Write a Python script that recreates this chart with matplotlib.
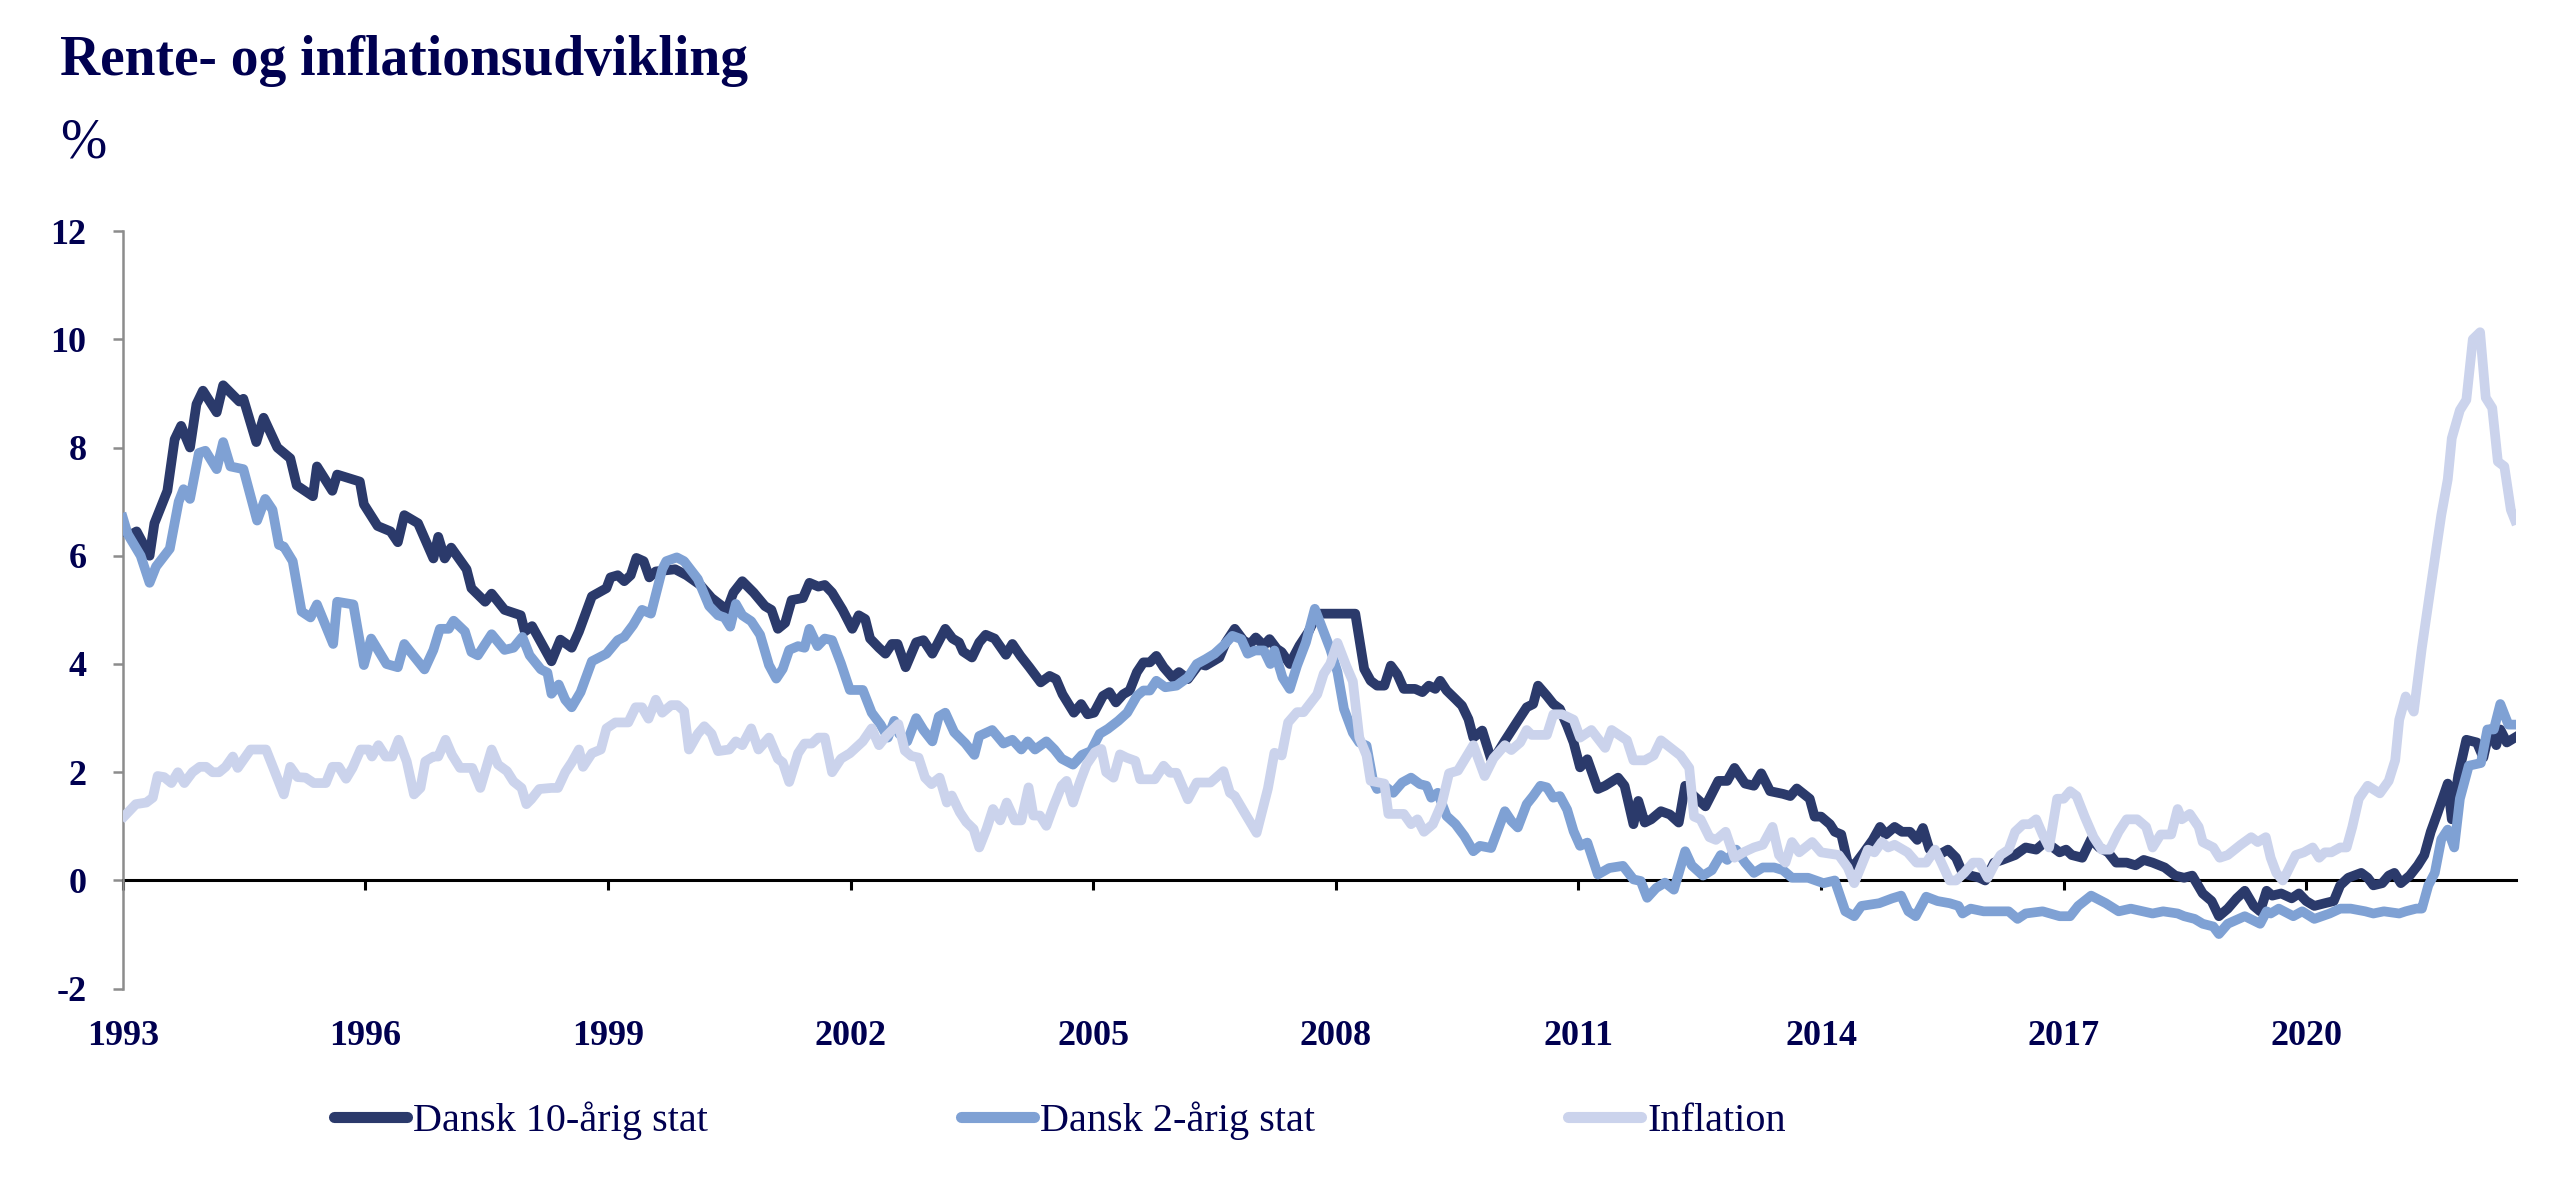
import matplotlib
matplotlib.use("Agg")
import matplotlib.pyplot as plt

# Rente- og inflationsudvikling, 1993-2022

navy_text = "#000050"
c10 = "#2b3a6b"
c2 = "#7fa1d4"
cinf = "#cbd3ec"

labels = ["Dansk 10-årig stat", "Dansk 2-årig stat", "Inflation"]
year_ticks = [1993, 1996, 1999, 2002, 2005, 2008, 2011, 2014, 2017, 2020]
y_ticks = [-2, 0, 2, 4, 6, 8, 10, 12]

# Dansk 10-årig stat
t10 = [1993.00, 1993.11, 1993.17, 1993.33, 1993.39, 1993.55, 1993.64, 1993.72, 1993.83, 1993.91,
       1993.99, 1994.16, 1994.24, 1994.44, 1994.49, 1994.65, 1994.74, 1994.91, 1995.07, 1995.15,
       1995.35, 1995.40, 1995.59, 1995.65, 1995.93, 1995.98, 1996.15, 1996.31, 1996.40, 1996.48,
       1996.65, 1996.84, 1996.90, 1996.98, 1997.06, 1997.25, 1997.31, 1997.48, 1997.56, 1997.72,
       1997.92, 1997.97, 1998.06, 1998.30, 1998.41, 1998.55, 1998.64, 1998.80, 1998.98, 1999.03,
       1999.12, 1999.20, 1999.28, 1999.35, 1999.44, 1999.51, 1999.59, 1999.83, 1999.97, 2000.14,
       2000.28, 2000.47, 2000.55, 2000.66, 2000.80, 2000.94, 2001.02, 2001.10, 2001.19, 2001.27,
       2001.41, 2001.49, 2001.60, 2001.68, 2001.77, 2001.90, 2002.02, 2002.10, 2002.18, 2002.24,
       2002.35, 2002.43, 2002.51, 2002.58, 2002.68, 2002.81, 2002.90, 2003.01, 2003.17, 2003.26,
       2003.34, 2003.39, 2003.50, 2003.59, 2003.67, 2003.78, 2003.92, 2004.00, 2004.10, 2004.21,
       2004.35, 2004.46, 2004.54, 2004.62, 2004.76, 2004.85, 2004.93, 2005.01, 2005.12, 2005.20,
       2005.28, 2005.37, 2005.45, 2005.54, 2005.62, 2005.70, 2005.78, 2005.87, 2005.98, 2006.06,
       2006.17, 2006.31, 2006.39, 2006.56, 2006.64, 2006.75, 2006.86, 2006.94, 2007.01, 2007.11,
       2007.18, 2007.27, 2007.33, 2007.43, 2007.55, 2007.66, 2007.77, 2008.24, 2008.35, 2008.43,
       2008.51, 2008.60, 2008.68, 2008.76, 2008.84, 2008.98, 2009.07, 2009.15, 2009.23, 2009.29,
       2009.37, 2009.48, 2009.56, 2009.64, 2009.70, 2009.81, 2009.92, 2010.00, 2010.09, 2010.25,
       2010.36, 2010.44, 2010.50, 2010.61, 2010.69, 2010.77, 2010.86, 2010.94, 2011.02, 2011.11,
       2011.24, 2011.33, 2011.49, 2011.57, 2011.68, 2011.74, 2011.82, 2011.90, 2012.02, 2012.13,
       2012.24, 2012.32, 2012.40, 2012.57, 2012.73, 2012.84, 2012.93, 2013.06, 2013.17, 2013.26,
       2013.37, 2013.53, 2013.62, 2013.70, 2013.86, 2013.92, 2014.00, 2014.11, 2014.17, 2014.25,
       2014.33, 2014.41, 2014.53, 2014.64, 2014.73, 2014.80, 2014.91, 2015.00, 2015.10, 2015.19,
       2015.26, 2015.34, 2015.45, 2015.57, 2015.67, 2015.75, 2015.85, 2015.96, 2016.03, 2016.14,
       2016.24, 2016.40, 2016.53, 2016.66, 2016.77, 2016.87, 2016.95, 2017.03, 2017.10, 2017.23,
       2017.34, 2017.44, 2017.55, 2017.65, 2017.78, 2017.89, 2017.99, 2018.10, 2018.25, 2018.38,
       2018.49, 2018.59, 2018.72, 2018.83, 2018.92, 2019.03, 2019.14, 2019.24, 2019.35, 2019.43,
       2019.51, 2019.58, 2019.69, 2019.82, 2019.91, 2020.00, 2020.10, 2020.23, 2020.34, 2020.42,
       2020.52, 2020.68, 2020.76, 2020.83, 2020.94, 2021.02, 2021.09, 2021.17, 2021.28, 2021.38,
       2021.46, 2021.54, 2021.62, 2021.75, 2021.80, 2021.88, 2021.98, 2022.11, 2022.19, 2022.27,
       2022.35, 2022.40, 2022.48, 2022.58]
v10 = [6.45, 6.40, 6.45, 6.00, 6.60, 7.20, 8.15, 8.40, 8.00, 8.80,
       9.05, 8.65, 9.15, 8.85, 8.90, 8.10, 8.55, 8.00, 7.80, 7.30,
       7.10, 7.65, 7.20, 7.50, 7.37, 6.95, 6.55, 6.45, 6.25, 6.75,
       6.60, 5.95, 6.35, 5.95, 6.15, 5.75, 5.40, 5.15, 5.30, 5.00,
       4.90, 4.60, 4.70, 4.05, 4.45, 4.30, 4.60, 5.25, 5.40, 5.60,
       5.64, 5.53, 5.64, 5.96, 5.90, 5.60, 5.71, 5.75, 5.64, 5.46,
       5.22, 5.00, 5.32, 5.53, 5.32, 5.07, 5.00, 4.65, 4.76, 5.18,
       5.22, 5.50, 5.43, 5.46, 5.32, 5.00, 4.65, 4.90, 4.83, 4.47,
       4.30, 4.19, 4.37, 4.37, 3.94, 4.40, 4.44, 4.19, 4.65, 4.47,
       4.40, 4.23, 4.12, 4.40, 4.54, 4.47, 4.17, 4.37, 4.15, 3.94,
       3.66, 3.78, 3.72, 3.44, 3.10, 3.26, 3.07, 3.10, 3.41, 3.48,
       3.29, 3.44, 3.51, 3.85, 4.03, 4.03, 4.15, 3.94, 3.75, 3.85,
       3.72, 4.00, 3.97, 4.12, 4.40, 4.65, 4.43, 4.37, 4.49, 4.34,
       4.46, 4.28, 4.22, 4.00, 4.34, 4.59, 4.93, 4.93, 3.91, 3.69,
       3.60, 3.60, 3.97, 3.81, 3.54, 3.54, 3.48, 3.60, 3.54, 3.69,
       3.51, 3.35, 3.23, 2.98, 2.64, 2.77, 2.24, 2.36, 2.58, 2.95,
       3.20, 3.26, 3.60, 3.41, 3.26, 3.17, 2.86, 2.55, 2.09, 2.24,
       1.69, 1.75, 1.90, 1.75, 1.04, 1.47, 1.07, 1.13, 1.28, 1.22,
       1.07, 1.75, 1.60, 1.37, 1.84, 1.84, 2.08, 1.79, 1.75, 1.98,
       1.65, 1.60, 1.56, 1.70, 1.51, 1.18, 1.18, 1.04, 0.90, 0.85,
       0.33, 0.28, 0.52, 0.75, 0.99, 0.85, 0.99, 0.90, 0.90, 0.75,
       0.97, 0.58, 0.47, 0.57, 0.42, 0.14, 0.09, 0.05, 0.00, 0.33,
       0.38, 0.47, 0.61, 0.57, 0.71, 0.61, 0.52, 0.57, 0.47, 0.42,
       0.76, 0.61, 0.52, 0.33, 0.33, 0.28, 0.38, 0.33, 0.24, 0.09,
       0.05, 0.09, -0.24, -0.38, -0.66, -0.52, -0.33, -0.19, -0.47, -0.57,
       -0.19, -0.28, -0.24, -0.33, -0.24, -0.38, -0.47, -0.42, -0.38, -0.09,
       0.05, 0.14, 0.05, -0.09, -0.05, 0.09, 0.14, -0.05, 0.09, 0.28,
       0.47, 0.90, 1.23, 1.79, 1.13, 1.94, 2.60, 2.55, 2.27, 2.79,
       2.50, 2.79, 2.55, 2.64]

# Dansk 2-årig stat
t2 = [1993.00, 1993.06, 1993.22, 1993.33, 1993.41, 1993.58, 1993.69, 1993.75, 1993.83, 1993.94,
      1994.02, 1994.16, 1994.24, 1994.33, 1994.49, 1994.66, 1994.76, 1994.85, 1994.93, 1994.99,
      1995.10, 1995.21, 1995.32, 1995.40, 1995.60, 1995.65, 1995.85, 1995.98, 1996.07, 1996.26,
      1996.40, 1996.48, 1996.59, 1996.73, 1996.84, 1996.92, 1997.03, 1997.09, 1997.23, 1997.31,
      1997.39, 1997.56, 1997.72, 1997.83, 1997.94, 1998.03, 1998.17, 1998.25, 1998.30, 1998.39,
      1998.47, 1998.55, 1998.66, 1998.80, 1998.98, 1999.12, 1999.20, 1999.31, 1999.42, 1999.53,
      1999.67, 1999.72, 1999.85, 1999.94, 2000.11, 2000.25, 2000.36, 2000.44, 2000.51, 2000.58,
      2000.66, 2000.77, 2000.88, 2000.99, 2001.08, 2001.16, 2001.24, 2001.35, 2001.43, 2001.49,
      2001.59, 2001.68, 2001.77, 2001.88, 2001.99, 2002.15, 2002.26, 2002.37, 2002.46, 2002.54,
      2002.60, 2002.70, 2002.81, 2002.90, 2003.01, 2003.09, 2003.17, 2003.28, 2003.42, 2003.53,
      2003.59, 2003.75, 2003.89, 2004.00, 2004.11, 2004.19, 2004.28, 2004.42, 2004.52, 2004.61,
      2004.75, 2004.86, 2004.97, 2005.08, 2005.18, 2005.31, 2005.42, 2005.54, 2005.62, 2005.70,
      2005.78, 2005.89, 2006.03, 2006.17, 2006.28, 2006.39, 2006.50, 2006.61, 2006.72, 2006.83,
      2006.91, 2007.00, 2007.11, 2007.19, 2007.24, 2007.34, 2007.43, 2007.52, 2007.63, 2007.74,
      2007.82, 2007.93, 2008.02, 2008.10, 2008.21, 2008.29, 2008.38, 2008.46, 2008.51, 2008.60,
      2008.71, 2008.82, 2008.93, 2009.04, 2009.12, 2009.18, 2009.26, 2009.37, 2009.48, 2009.59,
      2009.70, 2009.78, 2009.92, 2010.09, 2010.17, 2010.25, 2010.36, 2010.44, 2010.53, 2010.61,
      2010.69, 2010.77, 2010.86, 2010.94, 2011.02, 2011.11, 2011.24, 2011.38, 2011.55, 2011.68,
      2011.77, 2011.85, 2011.96, 2012.07, 2012.18, 2012.32, 2012.40, 2012.54, 2012.65, 2012.76,
      2012.84, 2012.95, 2013.06, 2013.17, 2013.28, 2013.42, 2013.53, 2013.64, 2013.84, 2014.03,
      2014.17, 2014.30, 2014.41, 2014.50, 2014.72, 2014.88, 2014.99, 2015.08, 2015.17, 2015.30,
      2015.44, 2015.59, 2015.70, 2015.75, 2015.85, 2016.01, 2016.17, 2016.32, 2016.43, 2016.53,
      2016.74, 2016.95, 2017.08, 2017.18, 2017.34, 2017.52, 2017.68, 2017.83, 2018.10, 2018.23,
      2018.41, 2018.49, 2018.62, 2018.72, 2018.85, 2018.92, 2019.03, 2019.24, 2019.43, 2019.51,
      2019.56, 2019.66, 2019.84, 2019.95, 2020.10, 2020.29, 2020.42, 2020.55, 2020.73, 2020.83,
      2020.96, 2021.15, 2021.23, 2021.36, 2021.43, 2021.51, 2021.59, 2021.67, 2021.75, 2021.83,
      2021.90, 2022.01, 2022.16, 2022.24, 2022.32, 2022.40, 2022.50, 2022.58]
v2 = [6.70, 6.40, 6.00, 5.50, 5.80, 6.13, 7.00, 7.23, 7.05, 7.90,
      7.94, 7.60, 8.10, 7.65, 7.60, 6.65, 7.05, 6.85, 6.20, 6.17,
      5.90, 4.97, 4.86, 5.10, 4.37, 5.15, 5.10, 3.98, 4.47, 4.00,
      3.94, 4.37, 4.16, 3.90, 4.26, 4.65, 4.65, 4.80, 4.60, 4.22,
      4.16, 4.55, 4.26, 4.30, 4.50, 4.16, 3.90, 3.84, 3.45, 3.62,
      3.34, 3.20, 3.48, 4.05, 4.19, 4.44, 4.50, 4.72, 5.00, 4.93,
      5.75, 5.90, 5.97, 5.90, 5.57, 5.07, 4.90, 4.86, 4.69, 5.11,
      4.90, 4.79, 4.54, 3.98, 3.73, 3.91, 4.26, 4.33, 4.30, 4.65,
      4.33, 4.47, 4.44, 4.01, 3.52, 3.52, 3.10, 2.88, 2.64, 2.95,
      2.71, 2.57, 3.00, 2.78, 2.57, 3.03, 3.10, 2.74, 2.53, 2.32,
      2.67, 2.78, 2.53, 2.60, 2.42, 2.57, 2.42, 2.57, 2.42, 2.25,
      2.14, 2.32, 2.39, 2.71, 2.80, 2.95, 3.10, 3.41, 3.51, 3.51,
      3.69, 3.57, 3.60, 3.75, 4.00, 4.09, 4.19, 4.34, 4.52, 4.46,
      4.19, 4.25, 4.25, 4.00, 4.25, 3.75, 3.54, 3.97, 4.40, 5.02,
      4.71, 4.28, 3.85, 3.17, 2.73, 2.55, 2.49, 1.84, 1.69, 1.75,
      1.62, 1.81, 1.90, 1.78, 1.75, 1.53, 1.62, 1.19, 1.04, 0.82,
      0.54, 0.64, 0.60, 1.28, 1.10, 0.98, 1.41, 1.56, 1.75, 1.72,
      1.53, 1.56, 1.31, 0.91, 0.64, 0.70, 0.11, 0.23, 0.27, 0.02,
      -0.01, -0.32, -0.14, -0.04, -0.17, 0.54, 0.28, 0.09, 0.19, 0.47,
      0.38, 0.57, 0.33, 0.14, 0.24, 0.24, 0.19, 0.05, 0.05, -0.05,
      0.00, -0.57, -0.66, -0.47, -0.42, -0.33, -0.28, -0.57, -0.66, -0.30,
      -0.38, -0.42, -0.47, -0.61, -0.52, -0.57, -0.57, -0.57, -0.71, -0.61,
      -0.57, -0.66, -0.66, -0.47, -0.28, -0.42, -0.57, -0.52, -0.61, -0.57,
      -0.61, -0.66, -0.71, -0.80, -0.85, -0.99, -0.80, -0.66, -0.80, -0.57,
      -0.61, -0.52, -0.66, -0.57, -0.71, -0.61, -0.52, -0.52, -0.57, -0.61,
      -0.57, -0.61, -0.57, -0.52, -0.52, -0.09, 0.14, 0.76, 0.94, 0.61,
      1.51, 2.12, 2.17, 2.79, 2.79, 3.26, 2.88, 2.88]

# Inflation
tinf = [1993.02, 1993.16, 1993.29, 1993.37, 1993.43, 1993.51, 1993.60, 1993.68, 1993.76, 1993.86,
        1993.95, 1994.03, 1994.11, 1994.19, 1994.27, 1994.36, 1994.42, 1994.58, 1994.77, 1994.99,
        1995.07, 1995.16, 1995.26, 1995.36, 1995.51, 1995.59, 1995.67, 1995.76, 1995.84, 1995.94,
        1996.04, 1996.08, 1996.16, 1996.25, 1996.33, 1996.41, 1996.51, 1996.60, 1996.68, 1996.74,
        1996.84, 1996.90, 1996.99, 1997.07, 1997.17, 1997.32, 1997.42, 1997.56, 1997.64, 1997.75,
        1997.83, 1997.93, 1997.99, 1998.05, 1998.15, 1998.30, 1998.38, 1998.47, 1998.55, 1998.64,
        1998.69, 1998.80, 1998.91, 1998.98, 1999.09, 1999.25, 1999.34, 1999.42, 1999.50, 1999.59,
        1999.67, 1999.78, 1999.86, 1999.94, 2000.00, 2000.11, 2000.19, 2000.28, 2000.36, 2000.50,
        2000.58, 2000.66, 2000.77, 2000.86, 2000.99, 2001.10, 2001.16, 2001.24, 2001.35, 2001.43,
        2001.52, 2001.60, 2001.68, 2001.77, 2001.88, 2001.99, 2002.15, 2002.26, 2002.35, 2002.44,
        2002.59, 2002.67, 2002.75, 2002.84, 2002.92, 2003.00, 2003.10, 2003.19, 2003.25, 2003.35,
        2003.43, 2003.52, 2003.59, 2003.68, 2003.76, 2003.85, 2003.93, 2004.03, 2004.11, 2004.20,
        2004.26, 2004.34, 2004.42, 2004.51, 2004.61, 2004.67, 2004.75, 2004.84, 2004.92, 2005.02,
        2005.10, 2005.16, 2005.25, 2005.33, 2005.41, 2005.52, 2005.58, 2005.76, 2005.87, 2005.95,
        2006.03, 2006.17, 2006.28, 2006.45, 2006.61, 2006.69, 2006.75, 2006.86, 2007.02, 2007.16,
        2007.24, 2007.33, 2007.41, 2007.52, 2007.60, 2007.77, 2007.85, 2007.93, 2008.02, 2008.13,
        2008.21, 2008.29, 2008.38, 2008.43, 2008.60, 2008.65, 2008.84, 2008.93, 2009.01, 2009.09,
        2009.20, 2009.31, 2009.40, 2009.51, 2009.70, 2009.84, 2009.95, 2010.09, 2010.17, 2010.28,
        2010.36, 2010.42, 2010.61, 2010.69, 2010.80, 2010.94, 2011.02, 2011.16, 2011.33, 2011.41,
        2011.60, 2011.68, 2011.82, 2011.93, 2012.02, 2012.26, 2012.37, 2012.43, 2012.51, 2012.62,
        2012.70, 2012.82, 2012.93, 2013.04, 2013.17, 2013.28, 2013.40, 2013.48, 2013.56, 2013.64,
        2013.73, 2013.89, 2014.00, 2014.22, 2014.33, 2014.41, 2014.58, 2014.66, 2014.75, 2014.83,
        2014.91, 2015.07, 2015.18, 2015.30, 2015.41, 2015.46, 2015.59, 2015.67, 2015.77, 2015.88,
        2015.96, 2016.06, 2016.14, 2016.22, 2016.32, 2016.40, 2016.50, 2016.58, 2016.66, 2016.74,
        2016.82, 2016.92, 2017.00, 2017.08, 2017.16, 2017.26, 2017.37, 2017.47, 2017.57, 2017.68,
        2017.78, 2017.91, 2018.02, 2018.10, 2018.20, 2018.33, 2018.41, 2018.46, 2018.56, 2018.67,
        2018.72, 2018.85, 2018.93, 2019.03, 2019.19, 2019.32, 2019.40, 2019.50, 2019.56, 2019.63,
        2019.71, 2019.76, 2019.87, 2019.97, 2020.08, 2020.16, 2020.23, 2020.31, 2020.42, 2020.50,
        2020.57, 2020.65, 2020.76, 2020.91, 2021.02, 2021.10, 2021.15, 2021.23, 2021.33, 2021.43,
        2021.54, 2021.67, 2021.75, 2021.80, 2021.90, 2021.98, 2022.06, 2022.15, 2022.22, 2022.30,
        2022.37, 2022.45, 2022.53, 2022.58]
vinf = [1.19, 1.41, 1.44, 1.53, 1.93, 1.91, 1.80, 2.00, 1.80, 2.00,
        2.10, 2.10, 2.00, 2.00, 2.10, 2.29, 2.08, 2.42, 2.42, 1.59,
        2.10, 1.91, 1.90, 1.80, 1.80, 2.10, 2.10, 1.88, 2.08, 2.42,
        2.42, 2.29, 2.50, 2.29, 2.29, 2.60, 2.20, 1.59, 1.71, 2.20,
        2.29, 2.29, 2.60, 2.32, 2.08, 2.08, 1.71, 2.42, 2.14, 2.02,
        1.83, 1.71, 1.41, 1.50, 1.69, 1.71, 1.71, 2.00, 2.18, 2.42,
        2.10, 2.35, 2.42, 2.81, 2.92, 2.92, 3.20, 3.20, 2.99, 3.34,
        3.10, 3.24, 3.24, 3.13, 2.42, 2.71, 2.85, 2.71, 2.39, 2.42,
        2.57, 2.50, 2.81, 2.42, 2.64, 2.25, 2.18, 1.82, 2.35, 2.53,
        2.53, 2.64, 2.64, 2.00, 2.25, 2.35, 2.57, 2.81, 2.50, 2.67,
        2.89, 2.40, 2.30, 2.27, 1.90, 1.78, 1.90, 1.44, 1.57, 1.26,
        1.08, 0.95, 0.61, 0.95, 1.32, 1.11, 1.44, 1.11, 1.11, 1.72,
        1.20, 1.20, 1.01, 1.38, 1.75, 1.84, 1.44, 1.84, 2.15, 2.37,
        2.43, 2.00, 1.90, 2.33, 2.27, 2.21, 1.87, 1.87, 2.12, 1.99,
        1.99, 1.50, 1.81, 1.81, 2.02, 1.62, 1.56, 1.28, 0.88, 1.70,
        2.36, 2.31, 2.92, 3.11, 3.11, 3.44, 3.82, 4.00, 4.39, 3.96,
        3.68, 2.64, 2.31, 1.84, 1.79, 1.23, 1.23, 1.04, 1.13, 0.90,
        1.04, 1.42, 1.98, 2.03, 2.50, 1.93, 2.26, 2.50, 2.41, 2.55,
        2.78, 2.69, 2.69, 3.07, 3.07, 2.97, 2.64, 2.78, 2.45, 2.78,
        2.59, 2.22, 2.22, 2.31, 2.59, 2.31, 2.08, 1.18, 1.13, 0.80,
        0.75, 0.90, 0.42, 0.52, 0.61, 0.66, 0.99, 0.47, 0.33, 0.71,
        0.52, 0.71, 0.52, 0.47, 0.24, -0.05, 0.57, 0.52, 0.71, 0.61,
        0.66, 0.52, 0.33, 0.33, 0.57, 0.42, 0.00, 0.00, 0.14, 0.33,
        0.33, 0.05, 0.28, 0.47, 0.57, 0.90, 1.04, 1.04, 1.13, 0.85,
        0.61, 1.51, 1.51, 1.65, 1.56, 1.18, 0.80, 0.57, 0.57, 0.90,
        1.13, 1.13, 0.99, 0.61, 0.85, 0.85, 1.32, 1.13, 1.23, 0.99,
        0.71, 0.61, 0.42, 0.47, 0.66, 0.80, 0.71, 0.80, 0.42, 0.14,
        0.00, 0.14, 0.47, 0.52, 0.61, 0.42, 0.52, 0.52, 0.61, 0.61,
        0.99, 1.51, 1.75, 1.61, 1.84, 2.22, 2.97, 3.40, 3.12, 4.30,
        5.43, 6.75, 7.41, 8.17, 8.69, 8.88, 10.00, 10.13, 8.92, 8.73,
        7.74, 7.65, 6.85, 6.66]

plt.rcParams['font.family'] = ['Liberation Serif', 'DejaVu Serif']

fig = plt.figure(figsize=(25.6, 11.97), dpi=100)
ax = fig.add_axes([0.048, 0.174, 0.935, 0.633])

lw = 7.0
ax.plot(t10, v10, color=c10, lw=lw, solid_joinstyle='round', label=labels[0], zorder=3)
ax.plot(t2, v2, color=c2, lw=lw, solid_joinstyle='round', label=labels[1], zorder=4)
ax.plot(tinf, vinf, color=cinf, lw=lw, solid_joinstyle='round', label=labels[2], zorder=5)

ax.set_xlim(1993, 2022.6)
ax.set_ylim(-2, 12)

ax.spines['top'].set_visible(False)
ax.spines['right'].set_visible(False)
ax.spines['left'].set_color('#8c8c8c')
ax.spines['left'].set_linewidth(1.8)
ax.spines['bottom'].set_position(('data', 0))
ax.spines['bottom'].set_color('black')
ax.spines['bottom'].set_linewidth(2.2)
ax.spines['bottom'].set_zorder(2)

ax.set_yticks(y_ticks)
ax.set_yticklabels([str(v) for v in y_ticks])
ax.set_xticks(year_ticks)
ax.set_xticklabels([str(y) for y in year_ticks])

ax.tick_params(axis='y', direction='out', length=7.2, width=1.8, color='#8c8c8c',
               pad=19, labelsize=26, labelcolor=navy_text)
ax.tick_params(axis='x', direction='out', length=7.2, width=2.2, color='black',
               pad=93, labelsize=26, labelcolor=navy_text)
for lab in ax.get_xticklabels() + ax.get_yticklabels():
    lab.set_fontweight('bold')

fig.text(0.0234, 0.9373, "Rente- og inflationsudvikling", fontsize=40, fontweight='bold',
         color=navy_text, va='baseline', ha='left')
fig.text(0.0234, 0.8688, "%", fontsize=40, color=navy_text, va='baseline', ha='left')

leg = fig.legend(loc='center', bbox_to_anchor=(0.414, 0.064), ncol=3, frameon=False,
                 fontsize=29, handlelength=1.8, handletextpad=0.15, columnspacing=6.3)
for txt in leg.get_texts():
    txt.set_color(navy_text)
for h in leg.get_lines():
    h.set_linewidth(8)
    h.set_solid_capstyle('round')

fig.savefig("out.png", dpi=100)
